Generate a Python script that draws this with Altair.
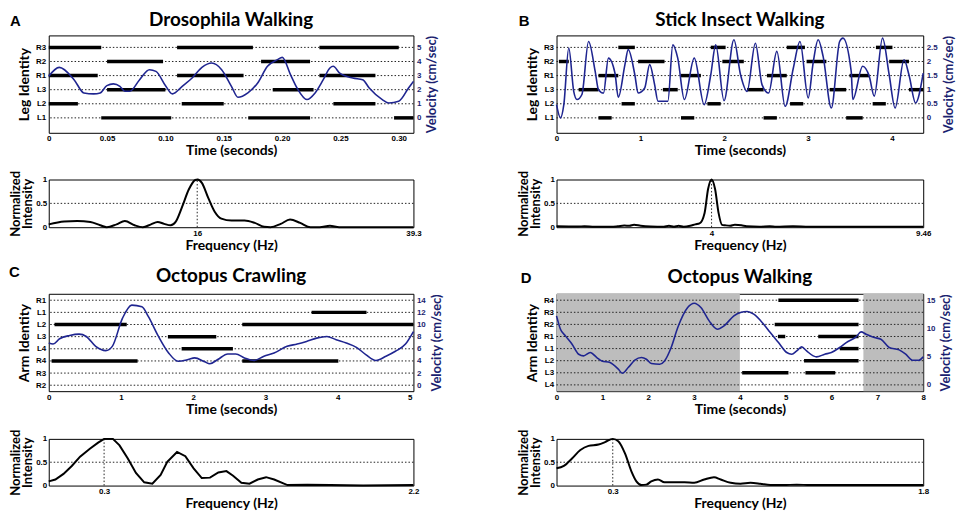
import json
import altair as alt
import pandas as pd

FONT_T = "Lato"
FONT_L = "Liberation Sans"
NAVY = "#1f2590"
NAVY_TXT = "#1b1f70"

# ---------------- Panel A: Drosophila walking ----------------
A_rows = ["L1", "L2", "L3", "R1", "R2", "R3"]
A_bar_leg = ["R3", "R3", "R3", "R2", "R2", "R1", "R1", "R1", "L3", "L3",
             "L2", "L2", "L2", "L1", "L1", "L1"]
A_bar_start = [0.000, 0.110, 0.232, 0.050, 0.182, 0.000, 0.110, 0.232, 0.050, 0.192,
               0.000, 0.114, 0.244, 0.045, 0.171, 0.296]
A_bar_end = [0.045, 0.175, 0.300, 0.098, 0.224, 0.042, 0.167, 0.280, 0.100, 0.227,
             0.025, 0.150, 0.280, 0.105, 0.224, 0.3126]
A_vel_t = [0, 0.009, 0.0217, 0.0301, 0.0385, 0.0441, 0.0498, 0.0554, 0.0610, 0.0652,
           0.0694, 0.0779, 0.0863, 0.0919, 0.1004, 0.1060, 0.1144, 0.1229, 0.1313, 0.1397,
           0.1482, 0.1566, 0.1622, 0.1707, 0.1791, 0.1875, 0.1960, 0.2002, 0.2072, 0.2128,
           0.2213, 0.2283, 0.2353, 0.2410, 0.2438, 0.2494, 0.2606, 0.2691, 0.2747, 0.2859,
           0.2916, 0.3000, 0.3084, 0.3126]
A_vel_v = [2.95, 3.58, 2.71, 1.77, 1.70, 1.77, 2.29, 2.41, 2.24, 1.89,
           1.89, 2.71, 3.42, 3.30, 2.24, 1.70, 2.24, 2.83, 3.58, 3.89,
           3.42, 2.24, 1.46, 1.77, 2.48, 3.66, 4.13, 4.29, 3.07, 2.12,
           1.30, 1.77, 2.71, 3.54, 3.66, 3.18, 2.83, 2.71, 2.12, 1.30,
           1.06, 1.18, 2.12, 2.59]
A_t_ticks = [0, 0.05, 0.10, 0.15, 0.20, 0.25, 0.30]
A_t_labels = ["0", "0.05", "0.10", "0.15", "0.20", "0.25", "0.30"]
A_v_ticks = [0, 1, 2, 3, 4, 5]
A_v_labels = ["0", "1", "2", "3", "4", "5"]
A_spec_f = [0, 1.66, 3.07, 4.49, 5.55, 6.25, 7.31, 8.2, 9.26, 10.14, 11.02, 11.73, 12.44,
            13.14, 13.67, 14.38, 15.09, 15.79, 16.04, 16.5, 17.2, 17.9, 18.6, 19.7, 21.1,
            22.2, 23.2, 23.9, 25.0, 26.0, 27.1, 28.2, 29.2, 30.3, 31.3, 34.2, 39.3]
A_spec_i = [0.06, 0.12, 0.13, 0.11, 0.04, 0.0, 0.06, 0.13, 0.04, 0.0, 0.06, 0.11, 0.07,
            0.04, 0.11, 0.43, 0.79, 0.99, 1.0, 0.93, 0.61, 0.32, 0.18, 0.14, 0.14,
            0.09, 0.01, 0.0, 0.07, 0.16, 0.09, 0.0, 0.0, 0.03, 0.0, 0.0, 0.0]

# ---------------- Panel B: Stick insect walking ----------------
B_rows = ["L1", "L2", "L3", "R1", "R2", "R3"]
B_bar_leg = ["R3"] * 4 + ["R2"] * 5 + ["R1"] * 4 + ["L3"] * 5 + ["L2"] * 4 + ["L1"] * 4
B_bar_start = [0.737, 1.84, 2.746, 3.81,
               0.028, 0.973, 1.978, 2.983, 3.968,
               0.5, 1.485, 2.51, 3.495,
               0.264, 1.269, 2.273, 3.258, 4.204,
               0.776, 1.8, 2.786, 3.771,
               0.5, 1.485, 2.47, 3.455]
B_bar_end = [0.934, 2.017, 2.963, 4.007,
             0.146, 1.288, 2.234, 3.219, 4.204,
             0.737, 1.722, 2.746, 3.731,
             0.5, 1.446, 2.47, 3.455, 4.374,
             0.934, 1.958, 2.943, 3.928,
             0.658, 1.643, 2.628, 3.652]
B_vel_t = [0, 0.047, 0.087, 0.146, 0.205, 0.244, 0.303, 0.382, 0.461, 0.5,
           0.56, 0.619, 0.697, 0.737, 0.816, 0.855, 0.934, 0.973, 1.052, 1.111,
           1.17, 1.21, 1.328, 1.387, 1.446, 1.525, 1.643, 1.761, 1.84, 1.899,
           1.998, 2.116, 2.195, 2.273, 2.372, 2.451, 2.53, 2.628, 2.727, 2.825,
           2.904, 3.002, 3.061, 3.121, 3.18, 3.278, 3.377, 3.416, 3.515, 3.534,
           3.652, 3.731, 3.79, 3.889, 3.968, 4.039, 4.145, 4.204, 4.283, 4.374]
B_vel_v = [0.47, 0.0, 0.47, 2.48, 0.94, 0.65, 0.83, 2.71, 1.65, 1.0,
           0.88, 2.12, 1.59, 0.73, 1.89, 2.42, 1.53, 0.88, 1.06, 1.89,
           1.18, 0.59, 0.59, 2.59, 2.12, 0.65, 2.12, 0.47, 1.53, 2.59,
           0.61, 2.77, 1.53, 0.94, 2.65, 1.18, 0.88, 2.36, 0.41, 1.77,
           2.71, 0.71, 1.95, 2.77, 2.18, 0.35, 2.71, 2.83, 1.65, 0.65,
           1.83, 1.47, 0.77, 2.83, 1.53, 0.35, 2.06, 1.53, 0.53, 1.59]
B_t_ticks = [0, 1, 2, 3, 4]
B_t_labels = ["0", "1", "2", "3", "4"]
B_v_ticks = [0, 0.5, 1, 1.5, 2, 2.5]
B_v_labels = ["0", "0.5", "1", "1.5", "2", "2.5"]
B_spec_f = [0, 0.55, 0.72, 0.98, 1.41, 1.58, 1.75, 1.88, 2.0, 2.17, 2.43, 2.77, 2.9,
            3.03, 3.15, 3.28, 3.45, 3.58, 3.69, 3.82, 3.91, 4.0, 4.09, 4.18, 4.27,
            4.35, 4.48, 4.6, 4.77, 4.9, 5.24, 5.5, 5.67, 6.1, 6.52, 7.37, 8.23, 9.46]
B_spec_i = [0.02, 0.015, 0.02, 0.01, 0.01, 0.02, 0.035, 0.03, 0.05, 0.03, 0.015, 0.01, 0.03,
            0.01, 0.03, 0.01, 0.03, 0.06, 0.08, 0.3, 0.8, 1.0, 0.8, 0.3, 0.05,
            0.04, 0.03, 0.05, 0.04, 0.02, 0.01, 0.02, 0.01, 0.02, 0.01, 0.01, 0.01, 0.01]

# ---------------- Panel C: Octopus crawling ----------------
C_rows = ["R2", "R3", "R4", "L4", "L3", "L2", "L1", "R1"]
C_bar_leg = ["L1", "L2", "L2", "L3", "L4", "R4", "R4"]
C_bar_start = [3.64, 0.08, 2.68, 1.65, 1.84, 0.04, 2.68]
C_bar_end = [4.40, 1.08, 5.05, 2.32, 2.55, 1.23, 4.01]
C_vel_t = [0, 0.06, 0.15, 0.29, 0.42, 0.52, 0.65, 0.79, 0.88, 1.02, 1.15, 1.29, 1.38,
           1.52, 1.66, 1.79, 1.93, 2.02, 2.16, 2.23, 2.34, 2.48, 2.59, 2.71, 2.84, 2.98,
           3.12, 3.30, 3.44, 3.57, 3.71, 3.85, 3.98, 4.12, 4.26, 4.39, 4.53, 4.67, 4.80,
           4.94, 5.05]
C_vel_v = [6.95, 6.78, 7.65, 8.19, 8.41, 8.03, 6.40, 5.70, 6.40, 11.01, 13.19, 12.91, 11.29,
           8.03, 5.32, 3.96, 4.23, 4.50, 3.85, 3.53, 4.23, 5.15, 5.15, 4.50, 4.07, 4.77,
           5.32, 6.40, 6.78, 7.22, 7.76, 8.03, 7.49, 6.95, 6.24, 5.05, 4.07, 4.77, 5.59,
           6.78, 8.84]
C_t_ticks = [0, 1, 2, 3, 4, 5]
C_t_labels = ["0", "1", "2", "3", "4", "5"]
C_v_ticks = [0, 2, 4, 6, 8, 10, 12, 14]
C_v_labels = ["0", "2", "4", "6", "8", "10", "12", "14"]
C_spec_f = [0, 0.04, 0.089, 0.139, 0.189, 0.248, 0.298, 0.334, 0.387, 0.427, 0.477, 0.526,
            0.576, 0.625, 0.675, 0.715, 0.774, 0.824, 0.874, 0.923, 0.973, 1.023, 1.072,
            1.112, 1.162, 1.211, 1.261, 1.311, 1.360, 1.44, 1.559, 1.698, 1.896, 2.2]
C_spec_i = [0.09, 0.13, 0.25, 0.42, 0.62, 0.79, 0.92, 1.0, 1.0, 0.86, 0.58, 0.27,
            0.07, 0.04, 0.23, 0.51, 0.72, 0.63, 0.37, 0.16, 0.17, 0.28, 0.31,
            0.21, 0.06, 0.04, 0.13, 0.18, 0.13, 0.01, 0.02, 0.01, 0.0, 0.01]

# ---------------- Panel D: Octopus walking ----------------
D_rows = ["L4", "L3", "L2", "L1", "R1", "R2", "R3", "R4"]
D_bar_leg = ["R4", "R2", "R1", "R1", "L1", "L2", "L3", "L3"]
D_bar_start = [4.84, 4.76, 4.83, 5.71, 6.18, 5.40, 4.05, 5.43]
D_bar_end = [6.59, 6.59, 4.99, 6.59, 6.59, 6.59, 5.06, 6.08]
D_shade_start = [0, 6.695]
D_shade_end = [4, 8]
D_vel_t = [0, 0.086, 0.195, 0.339, 0.483, 0.591, 0.735, 0.879, 0.987, 1.168, 1.348, 1.434,
           1.564, 1.708, 1.852, 1.960, 2.068, 2.249, 2.357, 2.501, 2.645, 2.861, 3.005,
           3.150, 3.330, 3.510, 3.654, 3.870, 4.014, 4.159, 4.303, 4.519, 4.663, 4.843,
           5.023, 5.132, 5.240, 5.348, 5.456, 5.600, 5.672, 5.852, 5.996, 6.177, 6.321,
           6.537, 6.645, 6.753, 6.933, 7.077, 7.258, 7.474, 7.618, 7.762, 7.906, 8.0]
D_vel_v = [12.23, 9.86, 8.68, 7.21, 5.43, 5.14, 5.73, 4.84, 4.25, 3.96, 2.78, 2.07,
           3.07, 4.37, 4.84, 4.55, 3.78, 3.66, 4.25, 6.62, 10.16, 13.70, 14.47,
           13.70, 11.34, 9.86, 10.45, 12.23, 12.82, 12.99, 12.52, 10.75, 9.27, 7.50,
           5.73, 5.43, 6.02, 6.73, 6.02, 5.14, 4.96, 5.43, 5.73, 6.62, 7.50,
           8.51, 9.39, 8.98, 8.39, 8.09, 6.62, 6.20, 5.43, 4.37, 4.37, 4.96]
D_t_ticks = [0, 1, 2, 3, 4, 5, 6, 7, 8]
D_t_labels = ["0", "1", "2", "3", "4", "5", "6", "7", "8"]
D_v_ticks = [0, 5, 10, 15]
D_v_labels = ["0", "5", "10", "15"]
D_spec_f = [0, 0.036, 0.076, 0.117, 0.157, 0.206, 0.238, 0.276, 0.303, 0.336, 0.368,
            0.392, 0.417, 0.441, 0.465, 0.498, 0.530, 0.579, 0.628, 0.676, 0.725, 0.773,
            0.806, 0.855, 0.903, 0.952, 1.0, 1.049, 1.114, 1.179, 1.244, 1.406, 1.8]
D_spec_i = [0.37, 0.42, 0.58, 0.76, 0.85, 0.88, 0.93, 1.0, 0.95, 0.69, 0.30,
            0.09, 0.01, 0.02, 0.09, 0.13, 0.07, 0.07, 0.07, 0.06, 0.13, 0.18,
            0.13, 0.06, 0.04, 0.06, 0.04, 0.01, 0.01, 0.02, 0.01, 0.01, 0.01]

W1 = 367
W2 = 369
H_TOP = 98
DOT = [1.5, 2]


def tick_expr(values, labels):
    return ("%s[indexof(%s, datum.value)]" % (json.dumps(labels), json.dumps(values)))


def gait_panel(title, letter, letter_xy, rows, legs, starts, ends, vt, vv, tmax,
               t_ticks, t_labels, v_ticks, v_labels, vper, ylo, yhi, axis_title,
               title_offset, width, shade_s=None, shade_e=None):
    n = len(rows)
    xs = alt.Scale(domain=[0, tmax], nice=False, zero=False)
    ys = alt.Scale(domain=[ylo, yhi], nice=False, zero=False)
    vs = alt.Scale(domain=[ylo * vper, yhi * vper], nice=False, zero=False)
    x_axis = alt.Axis(values=t_ticks, labelExpr=tick_expr(t_ticks, t_labels),
                      title="Time (seconds)", labelPadding=2, titlePadding=1,
                      labelFlush=False)
    y_axis = alt.Axis(values=list(range(n)), labelExpr=tick_expr(list(range(n)), rows),
                      title=axis_title, labelPadding=3, titlePadding=4)
    v_axis = alt.Axis(values=v_ticks, labelExpr=tick_expr(v_ticks, v_labels),
                      orient="right", title="Velocity (cm/sec)", titleAngle=270,
                      titleBaseline="top", titleFontSize=13,
                      labelColor=NAVY_TXT, titleColor=NAVY_TXT, labelPadding=3,
                      titlePadding=5)
    layers = []
    if shade_s is not None:
        sh = pd.DataFrame({"s": shade_s, "e": shade_e})
        layers.append(alt.Chart(sh).mark_rect(color="#bdbdbd").encode(
            x=alt.X("s:Q", scale=xs, axis=x_axis), x2="e:Q"))
    grid_df = pd.DataFrame({"row": list(range(n))})
    layers.append(alt.Chart(grid_df).mark_rule(strokeDash=DOT, color="#222222",
                                                strokeWidth=1).encode(
        y=alt.Y("row:Q", scale=ys, axis=y_axis)))
    bar_df = pd.DataFrame({"row": [rows.index(l) for l in legs], "s": starts, "e": ends})
    layers.append(alt.Chart(bar_df).mark_rule(strokeWidth=3.5, color="black").encode(
        x=alt.X("s:Q", scale=xs, axis=x_axis), x2="e:Q",
        y=alt.Y("row:Q", scale=ys, axis=None)))
    vel_df = pd.DataFrame({"t": vt, "v": vv})
    layers.append(alt.Chart(vel_df).mark_line(color=NAVY, strokeWidth=1.6,
                                              interpolate="monotone").encode(
        x=alt.X("t:Q", scale=xs, axis=x_axis),
        y=alt.Y("v:Q", scale=vs, axis=v_axis)))
    let_df = pd.DataFrame({"L": [letter]})
    layers.append(alt.Chart(let_df).mark_text(font=FONT_L, fontSize=15, fontWeight="bold",
                                              align="left", baseline="alphabetic",
                                              color="black").encode(
        text="L:N", x=alt.value(letter_xy[0]), y=alt.value(letter_xy[1])))
    return alt.layer(*layers).resolve_scale(y="independent").properties(
        width=width, height=H_TOP,
        title=alt.TitleParams(title, font=FONT_T, fontSize=19, fontWeight="bold",
                              anchor="middle", frame="group", offset=title_offset,
                              color="black"))


def spec_panel(f, I, peak, peak_label, fmax, fmax_label, interp, width, height):
    xs = alt.Scale(domain=[0, fmax], nice=False, zero=False)
    ys = alt.Scale(domain=[0, 1], nice=False, zero=False)
    x_axis = alt.Axis(values=[peak, fmax],
                      labelExpr="datum.value < %s ? '%s' : '%s'" % (fmax * 0.95, peak_label, fmax_label),
                      title="Frequency (Hz)", labelPadding=2, titlePadding=1, labelFlush=False)
    y_axis = alt.Axis(values=[0, 0.5, 1], format="~g", title=["Normalized", "Intensity"],
                      labelPadding=2, titlePadding=1, titleFontSize=13, titleLineHeight=12)
    half = alt.Chart(pd.DataFrame({"y": [0.5]})).mark_rule(
        strokeDash=DOT, color="#222222", strokeWidth=1).encode(
        y=alt.Y("y:Q", scale=ys, axis=y_axis))
    pk = alt.Chart(pd.DataFrame({"f": [peak], "a": [0], "b": [1]})).mark_rule(
        strokeDash=DOT, color="#222222", strokeWidth=1).encode(
        x=alt.X("f:Q", scale=xs, axis=x_axis), y=alt.Y("a:Q", scale=ys, axis=y_axis), y2="b:Q")
    line = alt.Chart(pd.DataFrame({"f": f, "i": I})).mark_line(
        color="black", strokeWidth=2, interpolate=interp).encode(
        x=alt.X("f:Q", scale=xs, axis=x_axis), y=alt.Y("i:Q", scale=ys, axis=y_axis))
    return alt.layer(half, pk, line).properties(width=width, height=height)


A_top = gait_panel("Drosophila Walking", "A", (-39, -9), A_rows, A_bar_leg, A_bar_start,
                   A_bar_end, A_vel_t, A_vel_v, 0.3126, A_t_ticks, A_t_labels, A_v_ticks,
                   A_v_labels, 1, -1.06, 5.85, "Leg Identity", -16, W1)
B_top = gait_panel("Stick Insect Walking", "B", (-38, -9), B_rows, B_bar_leg, B_bar_start,
                   B_bar_end, B_vel_t, B_vel_v, 4.374, B_t_ticks, B_t_labels, B_v_ticks,
                   B_v_labels, 0.5, -1.06, 5.85, "Leg Identity", -16, W2)
C_top = gait_panel("Octopus Crawling", "C", (-40, -17), C_rows, C_bar_leg, C_bar_start,
                   C_bar_end, C_vel_t, C_vel_v, 5.05, C_t_ticks, C_t_labels, C_v_ticks,
                   C_v_labels, 2, -0.49, 7.53, "Arm Identity", -21, W1)
D_top = gait_panel("Octopus Walking", "D", (-36, -11), D_rows, D_bar_leg, D_bar_start,
                   D_bar_end, D_vel_t, D_vel_v, 8.0, D_t_ticks, D_t_labels, D_v_ticks,
                   D_v_labels, 15 / 7, -0.52, 7.53, "Arm Identity", -16, W2,
                   D_shade_start, D_shade_end)

A_spec = spec_panel(A_spec_f, A_spec_i, 16, "16", 39.3, "39.3", "monotone", W1, 48)
B_spec = spec_panel(B_spec_f, B_spec_i, 4, "4", 9.46, "9.46", "monotone", W2, 48)
C_spec = spec_panel(C_spec_f, C_spec_i, 0.334, "0.3", 2.2, "2.2", "linear", W1, 47)
D_spec = spec_panel(D_spec_f, D_spec_i, 0.276, "0.3", 1.8, "1.8", "monotone", W2, 47)

chart = alt.concat(A_top, B_top, A_spec, B_spec, C_top, D_top, C_spec, D_spec,
                   columns=2, align="each", bounds="full",
                   spacing=alt.RowColnumber(row=11, column=73)).properties(
    padding={"left": 0, "top": 1, "right": 0, "bottom": 0}
).configure_view(stroke="black", strokeWidth=1).configure_axis(
    labelFont=FONT_L, labelFontWeight="bold", labelFontSize=8, labelColor="black",
    titleFont=FONT_T, titleFontWeight="bold", titleFontSize=14, titleColor="black",
    domain=False, ticks=False, grid=False
).configure_title(font=FONT_T)

chart.save("out.html", embed_options={"renderer": "svg", "actions": False})
